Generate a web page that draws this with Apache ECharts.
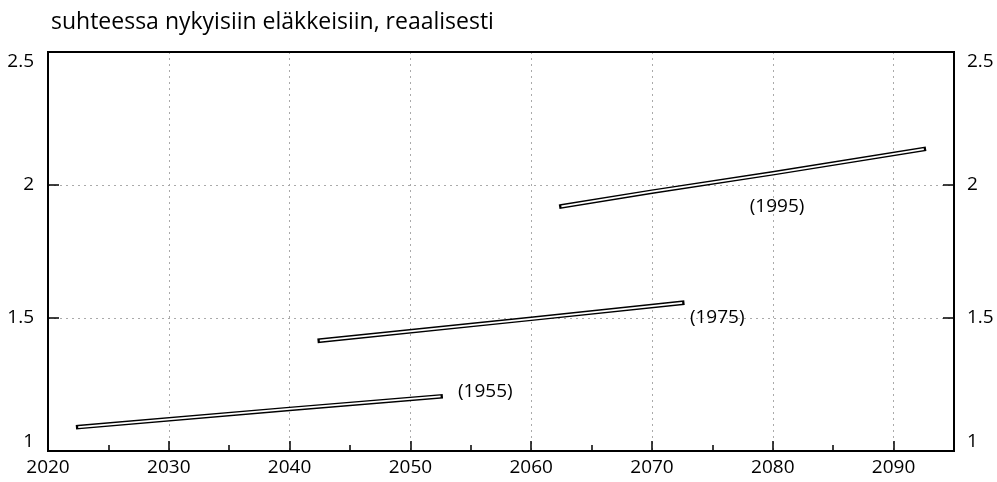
<!DOCTYPE html>
<html><head><meta charset="utf-8">
<script src="https://cdn.jsdelivr.net/npm/echarts@6/dist/echarts.min.js"></script>
<style>html,body{margin:0;padding:0;background:#fff}#c{width:997px;height:482px}</style>
</head><body><div id="c"></div>
<script>
// Data
const cohorts = ['(1955)', '(1975)', '(1995)'];
const years1955 = [2022.5, 2040, 2052.5];
const vals1955 = [1.09, 1.158, 1.205];
const years1975 = [2042.5, 2060, 2072.5];
const vals1975 = [1.415, 1.497, 1.557];
const years1995 = [2062.5, 2070, 2080, 2092.5];
const vals1995 = [1.92, 1.975, 2.044, 2.135];
const labelYears = [2056.2, 2075.4, 2080.35];
const labelVals = [1.222, 1.5, 1.917];
const xTicks = [2020, 2030, 2040, 2050, 2060, 2070, 2080, 2090];
const yTicks = [1, 1.5, 2, 2.5];
const titleText = 'suhteessa nykyisiin eläkkeisiin, reaalisesti';

const FONT = 'Open Sans';
const lines = [[years1955, vals1955], [years1975, vals1975], [years1995, vals1995]];
const series = [];
lines.forEach(([xs, ys], i) => {
  const d = xs.map((x, k) => [x, ys[k]]);
  series.push({type: 'line', data: d, symbol: 'none', silent: true, z: 3,
    lineStyle: {color: '#000', width: 4.6, cap: 'square', join: 'miter'}});
  series.push({type: 'line', data: d, symbol: 'none', silent: true, z: 4,
    lineStyle: {color: '#fff', width: 1.8, cap: 'butt', join: 'miter'}});
});
series.push({type: 'scatter', symbolSize: 0, silent: true, z: 5,
  itemStyle: {color: '#000', opacity: 1},
  data: cohorts.map((c, i) => ({value: [labelYears[i], labelVals[i]], name: c})),
  label: {show: true, position: 'inside', formatter: p => p.name, color: '#000',
    textBorderWidth: 0, fontFamily: FONT, fontSize: 19}});

const chart = echarts.init(document.getElementById('c'), null, {renderer: 'canvas'});
const axisLine = {show: true, lineStyle: {color: '#000', width: 2}};
const yLabel = (margin) => ({color: '#000', fontFamily: FONT, fontSize: 19, margin: margin,
  verticalAlignMinLabel: 'bottom', verticalAlignMaxLabel: 'top',
  formatter: v => yTicks.includes(v) ? String(v) : ''});
const grid = {show: true, showMinLine: false, showMaxLine: false, lineStyle: {color: '#aaa', width: 1, type: [2, 4]}};
chart.setOption({
  animation: false,
  backgroundColor: '#fff',
  title: {text: titleText, left: 46, top: 6,
    textStyle: {fontFamily: FONT, fontSize: 23, fontWeight: 'normal', color: '#000'}},
  grid: {left: 48, right: 43, top: 52, bottom: 31, show: true, borderColor: '#000', borderWidth: 2, backgroundColor: 'transparent', z: 10},
  xAxis: [{
    type: 'value', min: 2020, max: 2095, interval: 10, position: 'bottom',
    axisLine: axisLine,
    axisTick: {show: true, inside: true, length: 10, lineStyle: {color: '#000', width: 1.5}},
    axisLabel: {show: true, showMaxLabel: false, color: '#000', fontFamily: FONT, fontSize: 19, margin: 7,
      formatter: v => xTicks.includes(v) ? String(v) : ''},
    splitLine: grid
  }, {
    type: 'value', min: 2020, max: 2095, interval: 5, position: 'bottom',
    axisLine: {show: false},
    axisTick: {show: true, inside: true, length: 6, lineStyle: {color: '#000', width: 1.5}},
    axisLabel: {show: false}, splitLine: {show: false}
  }],
  yAxis: [{
    type: 'value', min: 1, max: 2.5, interval: 0.5, position: 'left',
    axisLine: axisLine,
    axisTick: {show: true, inside: true, length: 11, lineStyle: {color: '#000', width: 1.5}},
    axisLabel: yLabel(14),
    splitLine: grid
  }, {
    type: 'value', min: 1, max: 2.5, interval: 0.5, position: 'right',
    axisLine: axisLine,
    axisTick: {show: true, inside: true, length: 11, lineStyle: {color: '#000', width: 1.5}},
    axisLabel: yLabel(13),
    splitLine: {show: false}
  }],
  series: series
});
</script></body></html>
